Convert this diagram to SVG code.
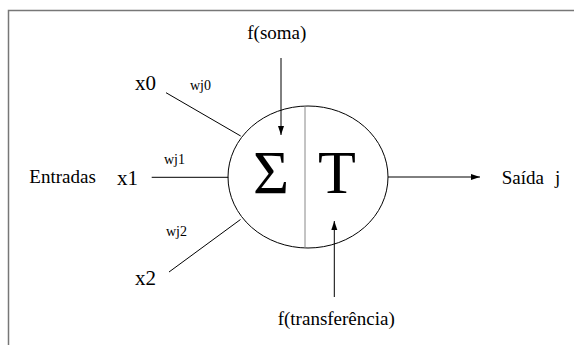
<svg xmlns="http://www.w3.org/2000/svg" width="574" height="345" viewBox="0 0 574 345">
<style>
text{font-family:'Liberation Serif','DejaVu Serif',serif;fill:#000}
.ln{stroke:#000;stroke-width:1;fill:none}
</style>
<defs>
<marker id="ah" markerUnits="userSpaceOnUse" markerWidth="10" markerHeight="8" refX="9" refY="4" orient="auto">
<path d="M0,1 L9,4 L0,7 Z" fill="#000"/>
</marker>
</defs>
<rect x="0" y="0" width="574" height="345" fill="#fff"/>
<path d="M8.5,345 V10.5 H574" fill="none" stroke="#777" stroke-width="1.5"/>
<g id="neuron" font-family="Liberation Serif, serif">
<ellipse cx="308" cy="177" rx="80" ry="71" fill="none" stroke="#000" stroke-width="1"/>
<line x1="305" y1="106" x2="305" y2="248" stroke="#888" stroke-width="1"/>
<text x="253" y="193" font-size="62">Σ</text>
<text x="318" y="193" font-size="62">T</text>
</g>
<g id="connectors">
<line class="ln" x1="166" y1="92.7" x2="240.7" y2="136"/>
<line class="ln" x1="151.7" y1="177.3" x2="228.3" y2="177.3"/>
<line class="ln" x1="169" y1="272" x2="240.5" y2="219.5"/>
<line class="ln" x1="281" y1="58" x2="281" y2="135" marker-end="url(#ah)"/>
<line class="ln" x1="334.3" y1="297" x2="334.3" y2="221" marker-end="url(#ah)"/>
<line class="ln" x1="388" y1="177" x2="480" y2="177" marker-end="url(#ah)"/>
</g>
<g id="labels" font-family="Liberation Serif, serif">
<text x="247.3" y="39.3" font-size="19">f(soma)</text>
<text x="277.7" y="325" font-size="19">f(transferência)</text>
<text x="29.3" y="183.3" font-size="19">Entradas</text>
<text x="501.7" y="184" font-size="19">Saída<tspan x="555">j</tspan></text>
</g>
<g id="input-x0" font-family="Liberation Serif, serif"><text x="135" y="90" font-size="21">x0</text><text x="190" y="90" font-size="14">wj0</text></g>
<g id="input-x1" font-family="Liberation Serif, serif"><text x="117" y="185" font-size="21">x1</text><text x="164" y="164" font-size="14">wj1</text></g>
<g id="input-x2" font-family="Liberation Serif, serif"><text x="135" y="285" font-size="21">x2</text><text x="166" y="236" font-size="14">wj2</text></g>
</svg>
